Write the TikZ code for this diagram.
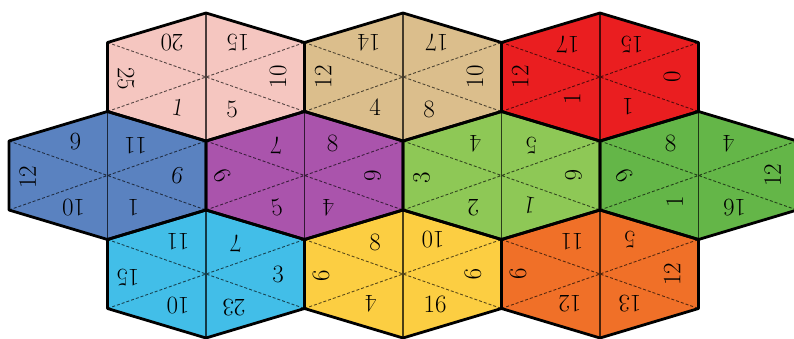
\documentclass[tikz,border=0pt]{standalone}
\usepackage{tikz}
\definecolor{cpink}{RGB}{245,198,192}
\definecolor{ctan}{RGB}{219,190,140}
\definecolor{cred}{RGB}{234,30,32}
\definecolor{csteel}{RGB}{90,130,192}
\definecolor{cpurple}{RGB}{170,84,172}
\definecolor{clgreen}{RGB}{142,200,86}
\definecolor{cgreen}{RGB}{100,182,72}
\definecolor{csky}{RGB}{66,190,232}
\definecolor{cyellow}{RGB}{252,206,66}
\definecolor{corange}{RGB}{240,112,40}
\tikzset{
  dig/.style={inner sep=0pt, font=\fontsize{25}{25}\selectfont},
  outline/.style={line width=2.8pt, line join=round, black},
  divline/.style={line width=1.1pt},
  dashline/.style={line width=0.9pt, dash pattern=on 3pt off 2pt}
}
% #1 fill colour
\newcommand\hexbody[1]{%
  \fill[#1] (0,-64) -- (98.5,-34.5) -- (98.5,34.5) -- (0,64) -- (-98.5,34.5) -- (-98.5,-34.5) -- cycle;
  \draw[divline,#1!30!black] (0,-64) -- (0,64);
  \draw[dashline,#1!35!black] (-98.5,-34.5) -- (98.5,34.5) (-98.5,34.5) -- (98.5,-34.5);
}
\newcommand\hexoutline{%
  \draw[outline] (0,-64) -- (98.5,-34.5) -- (98.5,34.5) -- (0,64) -- (-98.5,34.5) -- (-98.5,-34.5) -- cycle;
}
\begin{document}
\begin{tikzpicture}[x=1pt,y=-1pt]
\useasboundingbox (0,0) rectangle (794,339);
\fill[white] (0,0) rectangle (794,339);

% ---------- top row ----------
\begin{scope}[shift={(206,77)}]
  \hexbody{cpink}
  \node[dig,rotate=180] (p1) at (-34,-34) {20};
  \node[dig,rotate=180] (p2) at (32,-34) {15};
  \node[dig,rotate=-90] (p3) at (-80,2) {25};
  \node[dig,rotate=90] (p4) at (72,0) {10};
  \node[dig,rotate=-10] (p5) at (-28,30) {1};
  \node[dig] (p6) at (26,32) {5};
\end{scope}
\begin{scope}[shift={(403,77)}]
  \hexbody{ctan}
  \node[dig,rotate=180] (t1) at (-34,-34) {14};
  \node[dig,rotate=180] (t2) at (34,-34) {17};
  \node[dig,rotate=90] (t3) at (-80,0) {12};
  \node[dig,rotate=90] (t4) at (72,0) {10};
  \node[dig] (t5) at (-28,30) {4};
  \node[dig] (t6) at (26,32) {8};
\end{scope}
\begin{scope}[shift={(600,77)}]
  \hexbody{cred}
  \node[dig,rotate=180] (r1) at (-32,-32) {17};
  \node[dig,rotate=180] (r2) at (32,-32) {15};
  \node[dig,rotate=90] (r3) at (-80,0) {12};
  \node[dig,rotate=90] (r4) at (72,0) {0};
  \node[dig,rotate=90] (r5) at (-28,22) {1};
  \node[dig,rotate=180] (r6) at (28,30) {1};
\end{scope}

% ---------- middle row ----------
\begin{scope}[shift={(107.5,175.5)}]
  \hexbody{csteel}
  \node[dig,rotate=180] (b1) at (-32,-34) {6};
  \node[dig,rotate=180] (b2) at (28,-30) {11};
  \node[dig,rotate=90] (b3) at (-80,2) {12};
  \node[dig,rotate=-10] (b4) at (70,0) {6};
  \node[dig,rotate=180] (b5) at (-34,32) {10};
  \node[dig,rotate=180] (b6) at (26,32) {1};
\end{scope}
\begin{scope}[shift={(304.5,175.5)}]
  \hexbody{cpurple}
  \node[dig,rotate=180] (u1) at (-28,-30) {7};
  \node[dig] (u2) at (28,-32) {8};
  \node[dig,rotate=-60] (u3) at (-82,0) {6};
  \node[dig,rotate=90] (u4) at (68,0) {9};
  \node[dig,rotate=10] (u5) at (-28,32) {5};
  \node[dig,rotate=180] (u6) at (24,32) {4};
\end{scope}
\begin{scope}[shift={(501.5,175.5)}]
  \hexbody{clgreen}
  \node[dig,rotate=180] (g1) at (-26,-32) {4};
  \node[dig,rotate=180] (g2) at (30,-30) {5};
  \node[dig,rotate=90] (g3) at (-80,2) {3};
  \node[dig,rotate=-90] (g4) at (72,0) {6};
  \node[dig,rotate=180] (g5) at (-28,32) {2};
  \node[dig,rotate=170] (g6) at (28,30) {1};
\end{scope}
\begin{scope}[shift={(698.5,175.5)}]
  \hexbody{cgreen}
  \node[dig] (h1) at (-28,-32) {8};
  \node[dig,rotate=180] (h2) at (30,-32) {4};
  \node[dig,rotate=-60] (h3) at (-74,0) {6};
  \node[dig,rotate=90] (h4) at (74,0) {12};
  \node[dig,rotate=90] (h5) at (-24,26) {1};
  \node[dig,rotate=180] (h6) at (36,32) {16};
\end{scope}

% ---------- bottom row ----------
\begin{scope}[shift={(206,274)}]
  \hexbody{csky}
  \node[dig,rotate=180] (s1) at (-28,-32) {11};
  \node[dig,rotate=180] (s2) at (30,-30) {7};
  \node[dig,rotate=180] (s3) at (-78,4) {15};
  \node[dig] (s4) at (72,0) {3};
  \node[dig,rotate=180] (s5) at (-28,32) {10};
  \node[dig,rotate=180] (s6) at (28,34) {23};
\end{scope}
\begin{scope}[shift={(403,274)}]
  \hexbody{cyellow}
  \node[dig] (y1) at (-28,-32) {8};
  \node[dig,rotate=180] (y2) at (30,-34) {10};
  \node[dig,rotate=90] (y3) at (-82,2) {6};
  \node[dig,rotate=-90] (y4) at (70,0) {9};
  \node[dig,rotate=180] (y5) at (-32,30) {4};
  \node[dig] (y6) at (32,30) {16};
\end{scope}
\begin{scope}[shift={(600,274)}]
  \hexbody{corange}
  \node[dig,rotate=180] (o1) at (-28,-32) {11};
  \node[dig,rotate=180] (o2) at (30,-34) {5};
  \node[dig,rotate=90] (o3) at (-82,0) {6};
  \node[dig,rotate=90] (o4) at (72,0) {12};
  \node[dig,rotate=180] (o5) at (-30,30) {12};
  \node[dig,rotate=180] (o6) at (30,30) {13};
\end{scope}

% ---------- outlines ----------
\foreach \cx/\cy in {206/77,403/77,600/77,107.5/175.5,304.5/175.5,501.5/175.5,698.5/175.5,206/274,403/274,600/274}{
  \begin{scope}[shift={(\cx,\cy)}]\hexoutline\end{scope}
}
\end{tikzpicture}
\end{document}
